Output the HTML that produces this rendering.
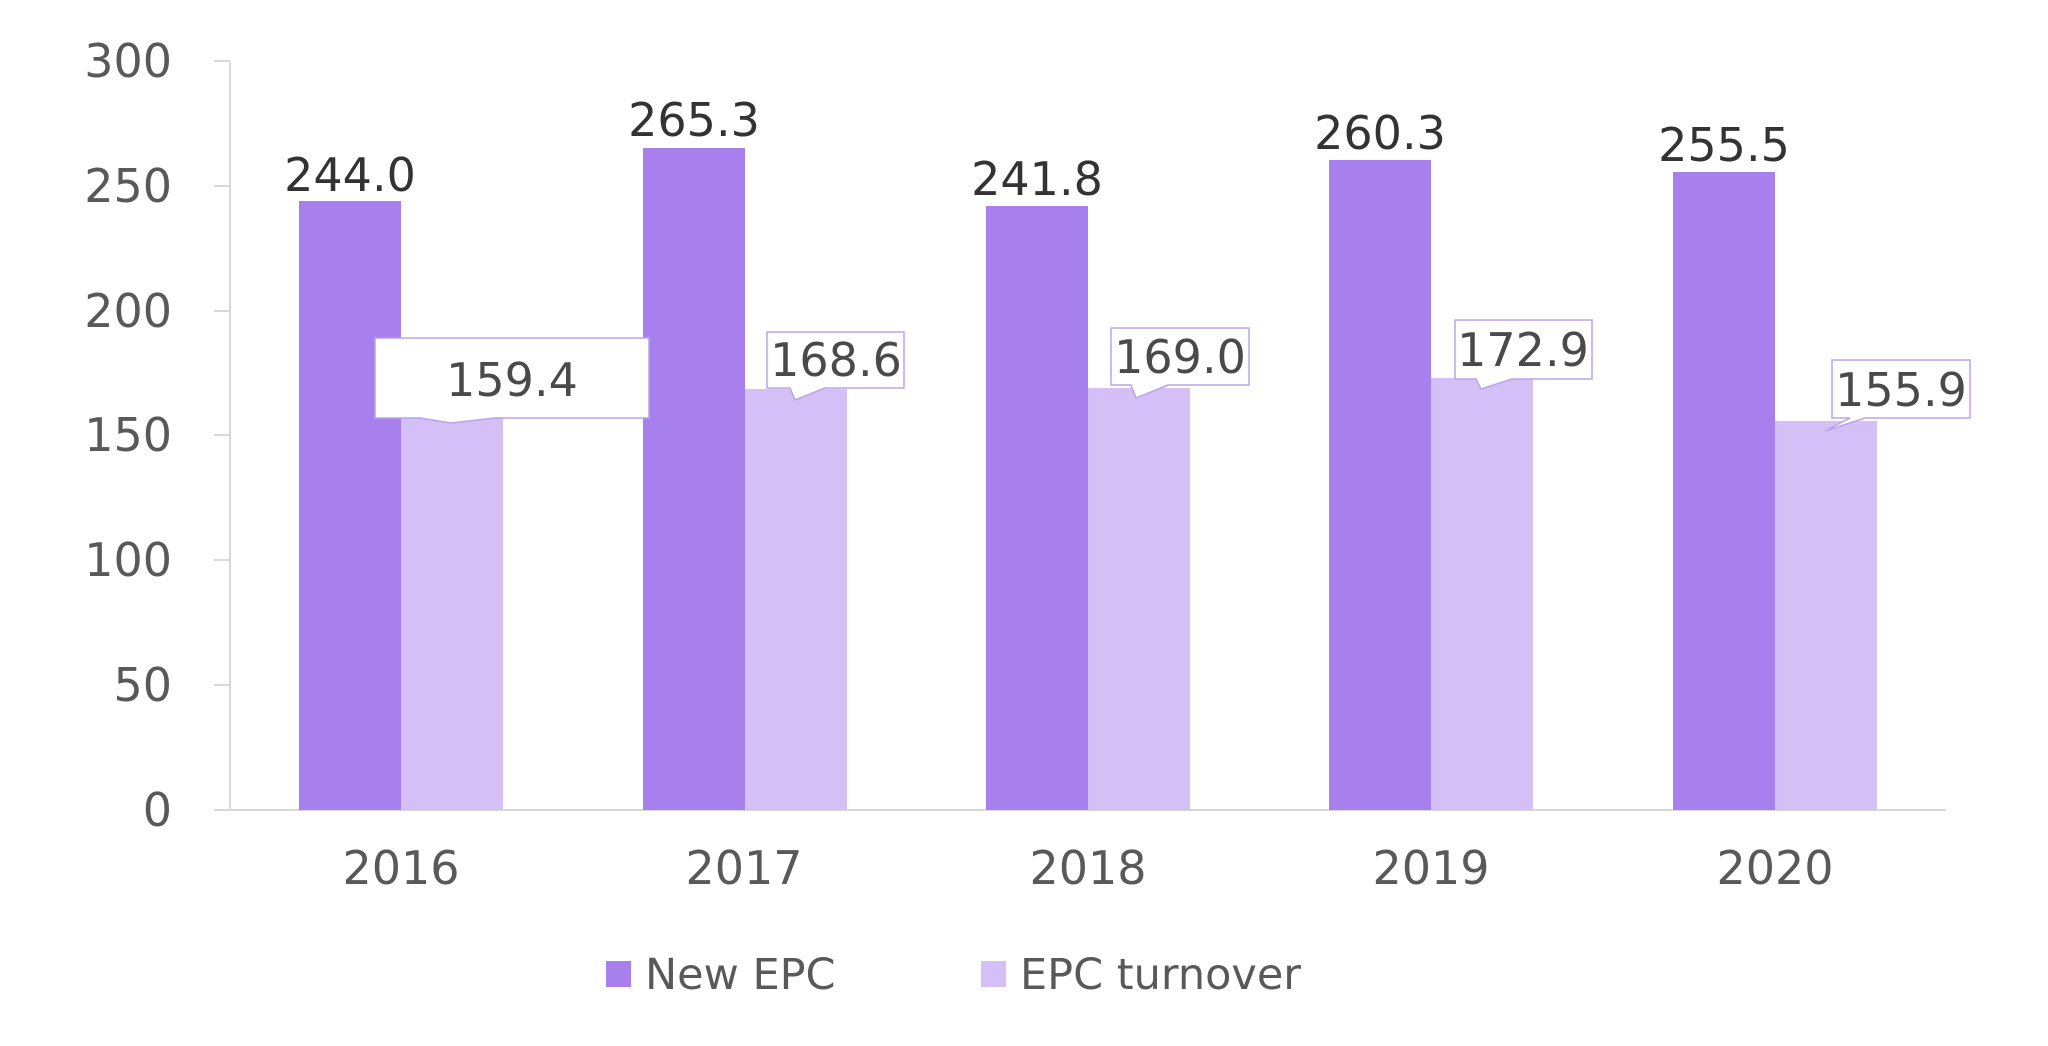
<!DOCTYPE html>
<html><head><style>body{margin:0;background:#fff}svg{display:block}</style></head><body>
<svg width="2048" height="1046" xmlns="http://www.w3.org/2000/svg" font-family="DejaVu Sans, Liberation Sans, sans-serif">
<g stroke="#d9d9d9" stroke-width="2">
<line x1="230" y1="61" x2="230" y2="810"/>
<line x1="230" y1="810" x2="1946" y2="810"/>
<line x1="214" y1="61" x2="230" y2="61"/>
<line x1="214" y1="186" x2="230" y2="186"/>
<line x1="214" y1="311" x2="230" y2="311"/>
<line x1="214" y1="435" x2="230" y2="435"/>
<line x1="214" y1="560" x2="230" y2="560"/>
<line x1="214" y1="685" x2="230" y2="685"/>
<line x1="214" y1="810" x2="230" y2="810"/>
</g>
<g fill="#595959" font-size="46" text-anchor="end">
<text x="172" y="77">300</text><text x="172" y="202">250</text><text x="172" y="327">200</text>
<text x="172" y="451">150</text><text x="172" y="576">100</text><text x="172" y="701">50</text><text x="172" y="826">0</text>
</g>
<g fill="#a880ee">
<rect x="299" y="201" width="102" height="609"/>
<rect x="643" y="148" width="102" height="662"/>
<rect x="986" y="206" width="102" height="604"/>
<rect x="1329" y="160" width="102" height="650"/>
<rect x="1673" y="172" width="102" height="638"/>
</g>
<g fill="#d4c0f7">
<rect x="401" y="412" width="102" height="398"/>
<rect x="745" y="389" width="102" height="421"/>
<rect x="1088" y="388" width="102" height="422"/>
<rect x="1431" y="378" width="102" height="432"/>
<rect x="1775" y="421" width="102" height="389"/>
</g>
<g fill="#333" font-size="46" text-anchor="middle">
<text x="350" y="191">244.0</text><text x="694" y="136">265.3</text><text x="1037" y="195">241.8</text>
<text x="1380" y="149">260.3</text><text x="1724" y="161">255.5</text>
</g>
<g fill="#fff" stroke="#b9a3e8" stroke-width="1.5">
<path d="M375,338 H649 V418 H495 L451,423 L420,418 H375 Z"/>
<path d="M767,332 H904 V388 H825 L795,400 L790,388 H767 Z"/>
<path d="M1111,328 H1249 V385 H1168 L1136,398 L1131,385 H1111 Z"/>
<path d="M1455,320 H1592 V379 H1512 L1481,389 L1476,379 H1455 Z"/>
<path d="M1832,360 H1970 V418 H1865 L1825,431 L1850,418 H1832 Z"/>
</g>
<g fill="#4a4a4a" font-size="46" text-anchor="middle">
<text x="512" y="396">159.4</text><text x="836" y="376">168.6</text><text x="1180" y="373">169.0</text>
<text x="1523" y="366">172.9</text><text x="1901" y="406">155.9</text>
</g>
<g fill="#595959" font-size="46" text-anchor="middle">
<text x="401" y="884">2016</text><text x="744" y="884">2017</text><text x="1088" y="884">2018</text>
<text x="1431" y="884">2019</text><text x="1775" y="884">2020</text>
</g>
<rect x="606" y="961" width="25" height="26" fill="#a880ee"/>
<rect x="981" y="961" width="25" height="26" fill="#d4c0f7"/>
<g fill="#595959" font-size="43">
<text x="645" y="989">New EPC</text><text x="1020" y="989">EPC turnover</text>
</g>
</svg>
</body></html>
